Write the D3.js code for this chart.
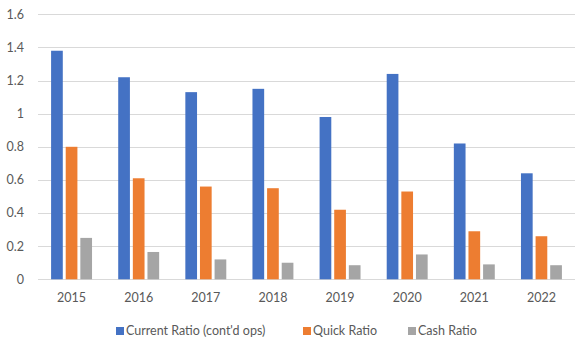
<!DOCTYPE html>
<html><head><meta charset="utf-8">
<script src="https://cdn.jsdelivr.net/npm/d3@7"></script>
<style>body{margin:0;background:#fff}text{font-family:Lato,"Open Sans",sans-serif;fill:#595959}</style>
</head><body>
<svg id="c" width="584" height="347"></svg>
<script>
const years = ["2015","2016","2017","2018","2019","2020","2021","2022"];
const seriesNames = ["Current Ratio (cont'd ops)","Quick Ratio","Cash Ratio"];
const currentRatio = [1.38,1.22,1.13,1.15,0.98,1.24,0.82,0.64];
const quickRatio = [0.80,0.61,0.56,0.55,0.42,0.53,0.29,0.26];
const cashRatio = [0.25,0.165,0.12,0.10,0.085,0.15,0.09,0.085];
const yTicks = [0,0.2,0.4,0.6,0.8,1,1.2,1.4,1.6];
const colors = ["#4472C4","#ED7D31","#A5A5A5"];
const seriesVals = [currentRatio, quickRatio, cashRatio];

(function(){
const svg = d3.select("#c");
const pLeft = 38, pRight = 575, pTop = 14.3, pBottom = 279.3;
const fs = 12.5;
const y = d3.scaleLinear().domain([0,1.6]).range([pBottom, pTop]);
const x0 = d3.scaleBand().domain(years).range([pLeft,pRight]).padding(0);
const groupW = x0.bandwidth()*0.61;
const x1 = d3.scaleBand().domain(d3.range(3)).range([0,groupW]).paddingInner(0.2).paddingOuter(0);

svg.append("g").selectAll("line").data(yTicks).join("line")
  .attr("x1",pLeft).attr("x2",pRight)
  .attr("y1",d=>Math.round(y(d))+0.5).attr("y2",d=>Math.round(y(d))+0.5)
  .attr("stroke","#D9D9D9").attr("stroke-width",1);

svg.append("g").selectAll("text").data(yTicks).join("text")
  .attr("x",24).attr("y",d=>y(d)).attr("dy","0.35em")
  .attr("text-anchor","end").attr("font-size",fs)
  .text(d=>String(d));

const g = svg.append("g");
years.forEach((yr,i)=>{
  const gx = x0(yr) + (x0.bandwidth()-groupW)/2;
  seriesVals.forEach((vals,s)=>{
    g.append("rect")
      .attr("x",gx + x1(s)).attr("width",x1.bandwidth())
      .attr("y",y(vals[i])).attr("height",y(0)-y(vals[i]))
      .attr("fill",colors[s]);
  });
});

svg.append("g").selectAll("text").data(years).join("text")
  .attr("x",d=>x0(d)+x0.bandwidth()/2).attr("y",298).attr("dy","0.35em")
  .attr("text-anchor","middle").attr("font-size",fs)
  .text(d=>d);

const legendX = [116,303,408];
seriesNames.forEach((n,s)=>{
  svg.append("rect").attr("x",legendX[s]).attr("y",327).attr("width",8).attr("height",8).attr("fill",colors[s]);
  svg.append("text").attr("x",legendX[s]+10).attr("y",331).attr("dy","0.35em").attr("font-size",12.5).text(n);
});
})();
</script>
</body></html>
